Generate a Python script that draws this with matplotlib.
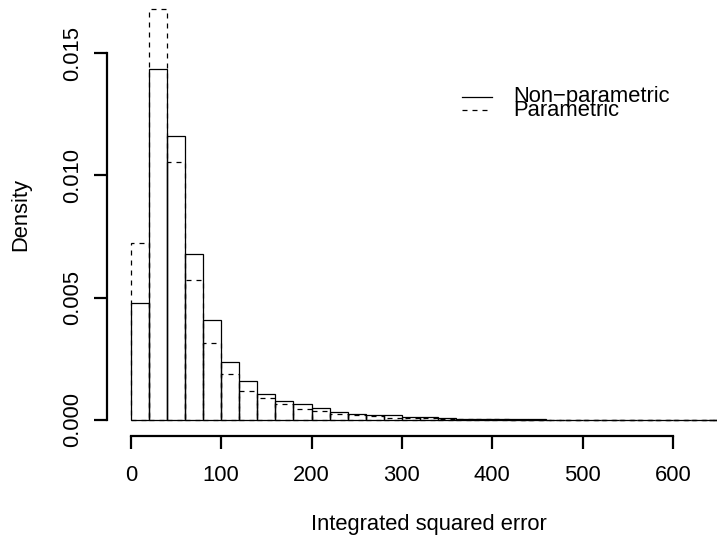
import numpy as np
import matplotlib
matplotlib.use("Agg")
import matplotlib.pyplot as plt
from matplotlib.lines import Line2D

plt.rcParams["font.family"] = ["Liberation Sans", "DejaVu Sans"]

# Histogram densities of the integrated squared error, bins of width 20 from 0 to 660
bin_width = 20
breaks = np.arange(0, 660 + bin_width, bin_width)
nonparametric = [0.00480, 0.01436, 0.01162, 0.00678, 0.00410, 0.00238, 0.00160, 0.00106,
                 0.00077, 0.00067, 0.00048, 0.00034, 0.00024, 0.00022, 0.00020, 0.00014,
                 0.00011, 0.00008, 0.00006, 0.00005, 0.00004, 0.00003, 0.00002, 0.000015,
                 0.00001, 0.00001, 0.000008, 0.000005, 0.000004, 0.000003, 0.000002,
                 0.000001, 0.000001]
parametric = [0.00723, 0.01679, 0.01056, 0.00571, 0.00313, 0.00190, 0.00119, 0.00088,
              0.00064, 0.00046, 0.00037, 0.00024, 0.00019, 0.00016, 0.00010, 0.00010,
              0.00007, 0.00005, 0.00004, 0.00003, 0.00002, 0.000015, 0.00001, 0.000008,
              0.000006, 0.000004, 0.000003, 0.000002, 0.000002, 0.000001, 0.000001,
              0.0, 0.0]

x_ticks = [0, 100, 200, 300, 400, 500, 600]
y_ticks = [0.000, 0.005, 0.010, 0.015]
y_tick_labels = ["0.000", "0.005", "0.010", "0.015"]

fs = 15.8
dash = (0, (4, 4))

fig = plt.figure(figsize=(7.17, 5.36), dpi=100)
# plot region runs a little past the right and top edges of the figure
ax = fig.add_axes([107 / 717, (536 - 436.4) / 536, 644 / 717, 443.4 / 536])

ax.bar(breaks[:-1], nonparametric, width=bin_width, align="edge", fill=False,
       edgecolor="black", linewidth=0.9)
ax.bar(breaks[:-1], parametric, width=bin_width, align="edge", fill=False,
       edgecolor="black", linewidth=0.9, linestyle=dash)

ymax = max(max(nonparametric), max(parametric))
xr = breaks[-1] - breaks[0]
ax.set_xlim(breaks[0] - 0.04 * xr, breaks[-1] + 0.04 * xr)
ax.set_ylim(-0.04 * ymax, 1.04 * ymax)

for side in ["top", "right"]:
    ax.spines[side].set_visible(False)
ax.spines["left"].set_bounds(y_ticks[0], y_ticks[-1])
ax.spines["bottom"].set_bounds(x_ticks[0], x_ticks[-1])
ax.spines["left"].set_linewidth(1.6)
ax.spines["bottom"].set_linewidth(1.6)

ax.set_xticks(x_ticks)
ax.set_xticklabels([str(v) for v in x_ticks], fontsize=fs)
ax.set_yticks(y_ticks)
ax.set_yticklabels(y_tick_labels, fontsize=fs, rotation=90, va="center")
ax.tick_params(axis="both", direction="out", length=9.5, width=1.6)
ax.tick_params(axis="x", pad=11)
ax.tick_params(axis="y", pad=8)

ax.set_xlabel("Integrated squared error", fontsize=fs, labelpad=20)
ax.set_ylabel("Density", fontsize=fs, labelpad=22)

# legend drawn by hand, R style, no box
leg_x0, leg_x1, text_x = 462 / 717, 492 / 717, 513 / 717
rows = [(1 - 96.5 / 536, "-", "Non\u2212parametric"), (1 - 110 / 536, dash, "Parametric")]
for y, ls, label in rows:
    fig.add_artist(Line2D([leg_x0, leg_x1], [y, y], transform=fig.transFigure,
                          color="black", linewidth=0.9, linestyle=ls))
    fig.text(text_x, y, label, fontsize=fs, va="center", ha="left")

fig.savefig("out.png", dpi=100)
